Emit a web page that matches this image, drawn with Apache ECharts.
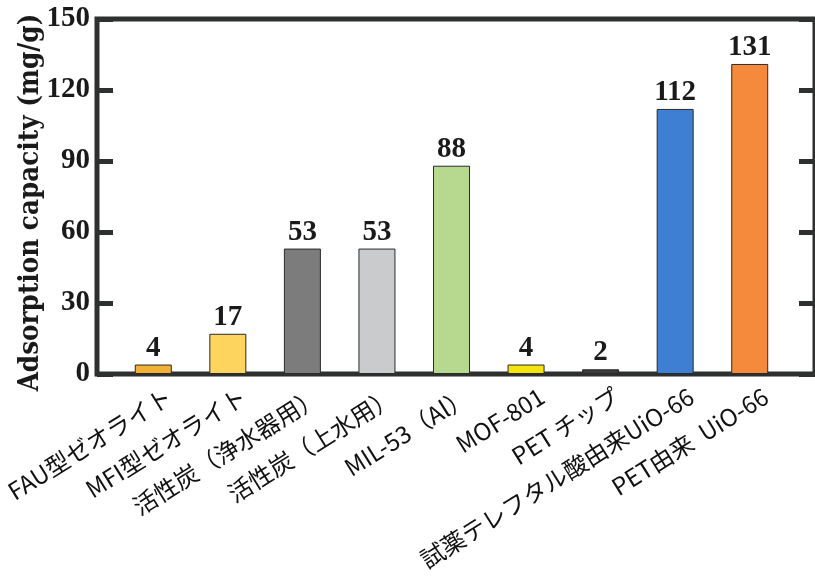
<!DOCTYPE html>
<html>
<head>
<meta charset="utf-8">
<script src="https://cdn.jsdelivr.net/npm/echarts@6/dist/echarts.min.js"></script>
<style>
  html, body { margin: 0; padding: 0; background: #ffffff; }
  #chart { width: 815px; height: 579px; }
</style>
</head>
<body>
<div id="chart"></div>
<script>
// Adsorbent names along the x axis
const categories = [
  'FAU型ゼオライト',
  'MFI型ゼオライト',
  '活性炭（浄水器用）',
  '活性炭（上水用）',
  'MIL-53（Al）',
  'MOF-801',
  'PET チップ',
  '試薬テレフタル酸由来UiO-66',
  'PET由来  UiO-66'
];
// Adsorption capacity (mg/g)
const capacity = [4, 17, 53, 53, 88, 4, 2, 112, 131];
// Fill colour of each bar
const barColors = ['#F1B135', '#FDD45E', '#7C7C7C', '#C9CBCC', '#B6D98F', '#F2E40C', '#3A3A3A', '#3F7FD3', '#F68A3C'];
// Y axis scale
const yMin = 0, yMax = 150, yStep = 30;

const axisColor = '#2e2f2f';
const serif = '"Liberation Serif", "Times New Roman", serif';

const chart = echarts.init(document.getElementById('chart'), null, { renderer: 'canvas' });

// grid 0: outer frame with the value axis; grid 1: bars; grid 2: category labels
const frame = { left: 97, right: -4, top: 19, bottom: 205 };
const barGrid = { left: 116, right: 28, top: 19, bottom: 205 };
const labelShift = 16;

chart.setOption({
  animation: false,
  backgroundColor: '#ffffff',
  grid: [
    Object.assign({ show: true, borderColor: axisColor, borderWidth: 5, backgroundColor: 'transparent' }, frame),
    barGrid,
    { left: barGrid.left + labelShift, right: barGrid.right - labelShift, top: 19, bottom: 205 }
  ],
  xAxis: [
    { gridIndex: 0, type: 'value', min: 0, max: 1, show: false },
    {
      gridIndex: 1, type: 'category', data: categories,
      axisLine: { show: false }, axisTick: { show: false }, axisLabel: { show: false }
    },
    {
      gridIndex: 2, type: 'category', data: categories,
      axisLine: { show: false }, axisTick: { show: false },
      axisLabel: {
        interval: 0, rotate: 32, margin: 20,
        color: '#111', fontSize: 24,
        fontFamily: '"Noto Sans CJK JP", "Noto Sans", sans-serif'
      }
    }
  ],
  yAxis: [
    {
      gridIndex: 0, type: 'value', min: yMin, max: yMax, interval: yStep,
      name: 'Adsorption capacity (mg/g)',
      nameLocation: 'middle', nameGap: 52, nameRotate: 90,
      nameMoveOverlap: false,
      nameTextStyle: {
        fontFamily: '"DejaVu Serif Condensed", "DejaVu Serif", serif',
        fontWeight: 'bold', fontSize: 27.5, color: '#1a1a1a',
        padding: [0, 12, 0, 0]
      },
      axisLine: { show: false },
      axisTick: { show: true, inside: true, length: 16, lineStyle: { color: axisColor, width: 5 } },
      axisLabel: { margin: 7, padding: [8, 0, 0, 0], fontFamily: serif, fontWeight: 'bold', fontSize: 29, color: '#1a1a1a' },
      splitLine: { show: false }
    },
    {
      gridIndex: 0, type: 'value', min: yMin, max: yMax, interval: yStep, position: 'right',
      axisLine: { show: false },
      axisTick: { show: true, inside: true, length: 16, lineStyle: { color: axisColor, width: 5 } },
      axisLabel: { show: false },
      splitLine: { show: false }
    },
    { gridIndex: 1, type: 'value', min: yMin, max: yMax, show: false },
    { gridIndex: 2, type: 'value', min: yMin, max: yMax, show: false }
  ],
  series: [
    {
      type: 'bar',
      xAxisIndex: 1, yAxisIndex: 2,
      barWidth: 37,
      data: capacity.map((v, i) => ({
        value: v,
        itemStyle: { color: barColors[i] }
      })),
      itemStyle: { borderColor: '#2a2a2a', borderWidth: 1 },
      label: {
        show: true, position: 'top', distance: 2,
        fontFamily: serif, fontWeight: 'bold', fontSize: 29, color: '#1a1a1a'
      }
    }
  ]
});
</script>
</body>
</html>
